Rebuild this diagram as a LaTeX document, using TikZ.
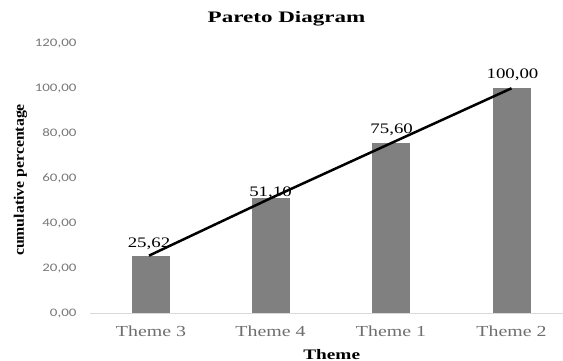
\documentclass[tikz,border=0pt]{standalone}
\usepackage{fontspec}
\setmainfont{Liberation Serif}
\newfontfamily\tickfont{Carlito}
\definecolor{barfill}{RGB}{128,128,128}
\definecolor{ticktext}{RGB}{120,120,120}
\definecolor{cattext}{RGB}{110,110,110}
\definecolor{axisline}{RGB}{217,217,217}
\begin{document}
\begin{tikzpicture}[x=1pt,y=-1pt,
  titlestyle/.style={font=\fontsize{16}{19}\selectfont\bfseries, xscale=1.44, anchor=base, inner sep=0pt},
  ticklabel/.style={font=\tickfont\fontsize{11.5}{13}\selectfont, text=ticktext, xscale=1.3, anchor=base east, inner sep=0pt},
  catlabel/.style={font=\fontsize{15.3}{18}\selectfont, text=cattext, xscale=1.3, anchor=base, inner sep=0pt},
  datalabel/.style={font=\fontsize{14.5}{17}\selectfont, xscale=1.3, anchor=base, inner sep=0pt},
  axistitle/.style={font=\fontsize{14.5}{17}\selectfont\bfseries, xscale=1.33, anchor=base, inner sep=0pt},
  barstyle/.style={fill=barfill, draw=none},
  cumline/.style={line width=2.5pt, black}]
\useasboundingbox (0,0) rectangle (563,361);

% title
\node[titlestyle] (title) at (286.5,22.5) {Pareto Diagram};

% value axis labels (0 at y=313.3, 2.25 units per percent)
\foreach \v/\t in {0/{0,00},20/{20,00},40/{40,00},60/{60,00},80/{80,00},100/{100,00},120/{120,00}}
  \node[ticklabel] (tick\v) at (76.7,{313.3-2.25*\v+3.4}) {\t};

% value axis title
\node[rotate=90, inner sep=0pt] (ytitle) at (20.5,180)
  {\scalebox{1}[0.92]{\fontsize{15.8}{18}\selectfont\bfseries cumulative percentage}};

% category axis
\coordinate (axL) at (90,313.3);
\coordinate (axR) at (563,313.3);
\draw[axisline, line width=1pt] (axL) -- (axR);

% bars
\foreach \i/\cx/\v in {1/151/25.62,2/270.5/51.10,3/391/75.60,4/511.5/100}{
  \fill[barstyle] ({\cx-19},313.3) rectangle ({\cx+19},{313.3-2.25*\v});
  \coordinate (p\i) at (\cx,{313.3-2.25*\v});
}

% category labels
\node[catlabel] (c1) at (151,336.7) {Theme 3};
\node[catlabel] (c2) at (270.5,336.7) {Theme 4};
\node[catlabel] (c3) at (391,336.7) {Theme 1};
\node[catlabel] (c4) at (511.5,336.7) {Theme 2};

% category axis title
\node[axistitle] (xtitle) at (331.7,359) {Theme};

% data labels
\node[datalabel] (d1) at (149,247.3) {25,62};
\node[datalabel] (d2) at (270.5,196.5) {51,10};
\node[datalabel] (d3) at (391.7,133.3) {75,60};
\node[datalabel] (d4) at (512.5,78.3) {100,00};

% cumulative line
\draw[cumline] ([xshift=-2pt]p1) -- (p2) -- (p3) -- (p4);
\end{tikzpicture}
\end{document}
